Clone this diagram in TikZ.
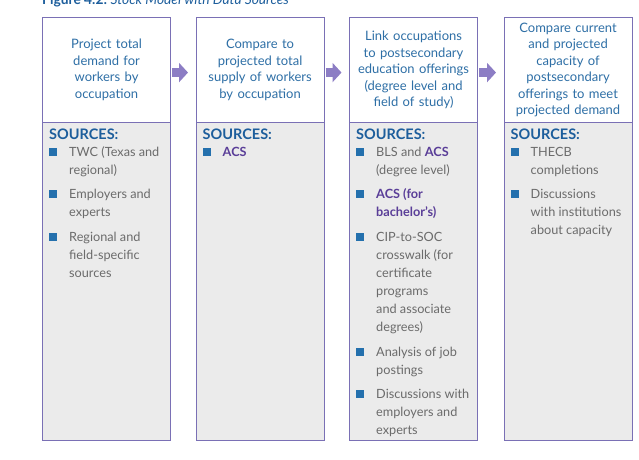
\documentclass[tikz,border=0pt]{standalone}
\usepackage{fontspec}
\setmainfont{Lato}
\usetikzlibrary{arrows.meta}
\definecolor{frame}{HTML}{7A70B5}
\definecolor{headblue}{HTML}{2E6FA6}
\definecolor{srcblue}{HTML}{1D5E9C}
\definecolor{bulblue}{HTML}{2470AD}
\definecolor{txtgray}{HTML}{6B6B6B}
\definecolor{acspurple}{HTML}{5A3E98}
\definecolor{boxgray}{HTML}{EBEBEB}
\definecolor{arrowpurple}{HTML}{8C7DC4}
\newcommand\acsb[1]{\textcolor{acspurple}{\bfseries #1}}
\begin{document}
\begin{tikzpicture}[x=1pt,y=-1pt,
  headbox/.style={draw=frame, line width=1.1pt, fill=white, minimum width=128pt, minimum height=105pt,
    text width=124pt, align=center, inner sep=0pt, anchor=north west, text=headblue,
    font=\fontsize{13}{16.5}\selectfont},
  bodybox/.style={draw=frame, line width=1.1pt, fill=boxgray, minimum width=128pt, minimum height=318pt,
    anchor=north west, inner sep=0pt},
  itemtext/.style={anchor=base west, align=left, inner sep=0pt, text=txtgray,
    font=\fontsize{12.7}{18}\selectfont},
  srclabel/.style={anchor=base west, inner sep=0pt, text=srcblue, font=\bfseries\fontsize{14.5}{16}\selectfont},
  bigarrow/.style={draw=arrowpurple, line width=9pt, -{Triangle[width=19pt,length=9pt]},
    shorten <=1pt, shorten >=7.5pt},
  bul/.style={fill=bulblue}]
\useasboundingbox (0,0) rectangle (639,459);

% title (cut at top)
\node[anchor=base west, inner sep=0pt, text=srcblue, font=\fontsize{13.8}{16}\selectfont] (title) at (42,4)
  {\bfseries Figure 4.2:\mdseries\ \itshape Stock Model with Data Sources};

% bodies
\node[bodybox] (s1) at (42,122) {};
\node[bodybox] (s2) at (195.5,122) {};
\node[bodybox] (s3) at (349,122) {};
\node[bodybox] (s4) at (503.5,122) {};

% headers
\node[headbox] (h1) at (42,17) {Project total\\demand for\\workers by\\occupation};
\node[headbox] (h2) at (195.5,17) {Compare to\\projected total\\supply of workers\\by occupation};
\node[headbox] (h3) at (349,17) {Link occupations\\to postsecondary\\education offerings\\(degree level and\\field of study)};
\node[headbox] (h4) at (503.5,17) {Compare current\\and projected\\capacity of\\postsecondary\\offerings to meet\\projected demand};

% arrows
\draw[bigarrow] ([yshift=-2.5pt]h1.east) -- ([yshift=-2.5pt]h2.west);
\draw[bigarrow] ([yshift=-2.5pt]h2.east) -- ([yshift=-2.5pt]h3.west);
\draw[bigarrow] ([yshift=-2.5pt]h3.east) -- ([yshift=-2.5pt]h4.west);

% box 1
\node[srclabel] (l1) at (49,139) {SOURCES:};
\fill[bul] (49,148) rectangle ++(8,7.5);
\node[itemtext] (a1) at (69,174) {TWC (Texas and\\regional)};
\fill[bul] (49,190) rectangle ++(8,7.5);
\node[itemtext] (a2) at (69,216) {Employers and\\experts};
\fill[bul] (49,233) rectangle ++(8,7.5);
\node[itemtext] (a3) at (69,277) {Regional and\\field-specific\\sources};

% box 2
\node[srclabel] (l2) at (202.5,139) {SOURCES:};
\fill[bul] (202.5,148) rectangle ++(8,7.5);
\node[itemtext] (b1) at (222.5,156) {\acsb{ACS}};

% box 3
\node[srclabel] (l3) at (356,139) {SOURCES:};
\fill[bul] (356,148) rectangle ++(8,7.5);
\node[itemtext] (c1) at (376,174) {BLS and \acsb{ACS}\\(degree level)};
\fill[bul] (356,190) rectangle ++(8,7.5);
\node[itemtext] (c2) at (376,216) {\acsb{ACS (for}\\\acsb{bachelor’s)}};
\fill[bul] (356,233) rectangle ++(8,7.5);
\node[itemtext] (c3) at (376,331) {CIP-to-SOC\\crosswalk (for\\certificate\\programs\\and associate\\degrees)};
\fill[bul] (356,348) rectangle ++(8,7.5);
\node[itemtext] (c4) at (376,374) {Analysis of job\\postings};
\fill[bul] (356,390) rectangle ++(8,7.5);
\node[itemtext] (c5) at (376,434) {Discussions with\\employers and\\experts};

% box 4
\node[srclabel] (l4) at (510.5,139) {SOURCES:};
\fill[bul] (510.5,148) rectangle ++(8,7.5);
\node[itemtext] (d1) at (530.5,174) {THECB\\completions};
\fill[bul] (510.5,190) rectangle ++(8,7.5);
\node[itemtext] (d2) at (530.5,234) {Discussions\\with institutions\\about capacity};
\end{tikzpicture}
\end{document}
